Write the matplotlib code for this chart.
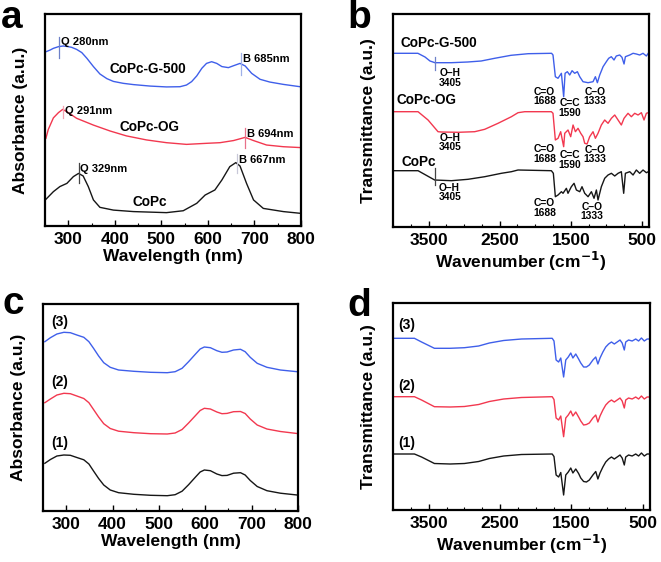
import matplotlib
matplotlib.use("Agg")
import matplotlib.pyplot as plt
from matplotlib.ticker import MultipleLocator, FixedLocator

plt.rcParams['font.family'] = ['Liberation Sans', 'DejaVu Sans']
plt.rcParams['font.weight'] = 'bold'

BLUE = '#3f5fea'
RED = '#f2384f'
BLACK = '#161616'

# ---- panel a : UV-vis spectra ----
a_g500_x = [252, 261, 268, 279, 289, 297, 307, 318, 329, 340, 354, 368, 383, 397, 418, 440,
            476, 511, 540, 554, 565, 576, 587, 597, 608, 619, 630, 644, 655, 669, 680, 694,
            712, 733, 762, 798]
a_g500_y = [82.2, 83.0, 83.8, 84.6, 84.9, 84.7, 84.3, 83.3, 81.8, 79.1, 75.2, 71.7, 69.5, 68.2,
            67.3, 66.7, 66.0, 65.6, 65.7, 66.5, 68.1, 70.8, 74.4, 76.7, 77.5, 76.7, 75.2, 74.7,
            75.6, 76.7, 75.5, 72.0, 69.2, 67.9, 66.8, 65.7]
a_og_x = [252, 257, 268, 279, 288, 297, 318, 354, 390, 425, 468, 511, 554, 597, 626, 655,
          680, 698, 726, 762, 798]
a_og_y = [41.4, 45.5, 51.0, 53.5, 55.0, 53.9, 50.8, 47.6, 44.8, 42.5, 40.6, 39.3, 38.5, 39.0,
          39.3, 40.3, 41.8, 40.3, 38.2, 37.4, 37.0]
a_copc_x = [252, 268, 282, 297, 311, 322, 332, 343, 354, 368, 397, 440, 511, 547, 576, 594,
            615, 630, 647, 660, 669, 683, 698, 719, 762, 798]
a_copc_y = [12.6, 16.2, 18.6, 20.1, 23.3, 24.8, 23.6, 18.6, 12.3, 8.8, 7.5, 6.8, 6.3, 7.2,
            10.7, 14.6, 17.0, 21.7, 28.0, 29.9, 28.3, 20.1, 12.3, 8.3, 6.8, 6.0]

# ---- panel b : FTIR spectra ----
b_g500_x = [3990, 3650, 3550, 3480, 3410, 3180, 2950, 2760, 2570, 2340, 2100, 1770, 1750,
            1717, 1680, 1632, 1600, 1580, 1548, 1515, 1482, 1445, 1407, 1374, 1328, 1257,
            1187, 1154, 1126, 1093, 1046, 1000, 967, 930, 892, 860, 812, 780, 751, 732,
            671, 624, 578, 531, 484, 437, 410]
b_g500_y = [173.7, 173.7, 170.0, 166.0, 164.3, 164.3, 165.0, 166.0, 168.7, 171.7, 173.3,
            173.7, 172.0, 150.3, 148.7, 153.7, 130.3, 153.7, 155.3, 152.0, 156.3, 153.7,
            155.3, 150.3, 145.3, 144.3, 145.3, 150.3, 144.3, 152.0, 160.3, 165.3, 168.7,
            170.3, 167.0, 171.0, 172.0, 169.7, 163.0, 170.3, 172.0, 173.7, 173.0, 172.0,
            173.7, 171.0, 173.7]
b_og_x = [3990, 3648, 3507, 3367, 3320, 3085, 2851, 2710, 2523, 2335, 2242, 2148, 1773,
          1750, 1717, 1679, 1642, 1600, 1585, 1539, 1501, 1468, 1435, 1398, 1360, 1328,
          1304, 1271, 1234, 1187, 1154, 1117, 1070, 1023, 976, 929, 882, 835, 789, 751,
          695, 648, 601, 554, 507, 470, 437, 410]
b_og_y = [115.3, 115.3, 107.0, 95.3, 95.0, 94.7, 95.3, 97.7, 103.7, 110.3, 114.3, 115.3,
          115.3, 113.7, 87.0, 88.7, 95.3, 80.3, 93.7, 97.0, 90.3, 102.0, 95.3, 98.7, 93.7,
          90.3, 83.7, 83.0, 90.3, 95.3, 88.7, 93.7, 102.0, 107.0, 103.7, 108.7, 112.0,
          107.0, 102.0, 108.7, 113.7, 110.3, 113.7, 112.0, 114.3, 107.0, 113.7, 114.3]
b_copc_x = [3990, 3648, 3414, 3179, 2945, 2710, 2476, 2335, 2242, 1773, 1745, 1717, 1679,
            1632, 1609, 1562, 1539, 1492, 1454, 1421, 1374, 1342, 1304, 1257, 1210, 1173,
            1140, 1117, 1070, 1023, 976, 929, 882, 835, 789, 756, 732, 671, 624, 578, 531,
            484, 437, 410]
b_copc_y = [56.3, 56.3, 47.0, 46.3, 47.7, 50.3, 53.7, 55.3, 57.0, 56.3, 53.7, 30.3, 32.0,
            35.3, 33.7, 38.7, 33.7, 40.3, 43.7, 37.0, 35.3, 40.3, 33.7, 30.3, 35.3, 28.7,
            37.0, 27.0, 40.3, 48.7, 52.0, 53.7, 51.0, 53.7, 55.3, 33.7, 53.7, 55.3, 52.0,
            57.0, 53.7, 57.0, 54.3, 55.3]

# ---- panel c : UV-vis of samples (1)-(3) ----
c_x = [254, 266, 280, 295, 309, 323, 338, 349, 359, 370, 381, 395, 413, 446, 482, 518, 535,
       550, 564, 579, 589, 598, 611, 625, 636, 647, 661, 676, 686, 697, 712, 733, 762, 798]
c_3_y = [169.3, 173.3, 177.0, 178.7, 178.3, 176.0, 173.7, 169.3, 162.7, 155.0, 148.3, 143.7,
         141.0, 139.7, 138.7, 138.3, 139.3, 142.7, 149.3, 157.0, 162.0, 164.0, 163.3, 160.3,
         158.7, 159.0, 161.0, 161.7, 159.3, 153.7, 147.7, 143.7, 141.0, 139.3]
c_2_y = [108.3, 112.0, 116.0, 117.7, 117.3, 115.0, 112.5, 108.3, 101.5, 94.0, 87.3, 82.5,
         79.8, 78.3, 77.3, 77.0, 78.0, 81.5, 88.0, 95.5, 100.5, 102.7, 102.0, 99.0, 97.3,
         97.6, 99.3, 99.5, 97.5, 92.0, 86.0, 82.0, 79.5, 77.5]
c_1_y = [47.7, 51.5, 55.0, 56.0, 55.7, 53.5, 51.2, 47.0, 40.0, 32.5, 26.0, 21.0, 18.3, 16.7,
         15.7, 15.3, 16.3, 19.8, 26.3, 34.0, 39.0, 41.0, 40.3, 37.0, 35.4, 35.6, 37.8, 38.3,
         36.0, 30.5, 24.5, 20.3, 17.8, 16.0]

# ---- panel d : FTIR of samples (1)-(3) ----
d_x = [3990, 3700, 3600, 3420, 3200, 3000, 2800, 2650, 2450, 2200, 1770, 1745, 1715, 1680,
       1650, 1610, 1580, 1545, 1510, 1480, 1440, 1400, 1370, 1330, 1290, 1250, 1200, 1160,
       1130, 1100, 1060, 1020, 980, 940, 900, 860, 820, 790, 760, 740, 700, 650, 600, 560,
       520, 480, 440, 410]
d_3_y = [171.7, 171.7, 168.0, 161.7, 161.7, 162.3, 164.0, 167.0, 169.5, 171.0, 171.7, 169.0,
         150.0, 148.0, 152.0, 133.0, 150.0, 153.0, 157.0, 152.0, 156.0, 151.0, 147.0, 143.0,
         143.0, 145.0, 150.0, 153.0, 146.0, 152.0, 158.0, 163.0, 166.0, 168.0, 166.0, 168.0,
         170.0, 167.0, 160.0, 168.0, 170.0, 169.0, 171.0, 169.0, 172.0, 169.0, 171.0, 171.0]
d_2_y = [113.3, 113.3, 110.0, 103.3, 103.0, 103.5, 105.5, 108.5, 111.0, 112.5, 113.3, 110.5,
         92.0, 90.0, 94.0, 73.3, 92.0, 95.0, 99.0, 94.0, 98.0, 93.0, 89.0, 85.0, 85.5, 87.0,
         92.0, 95.0, 88.0, 94.0, 100.0, 105.0, 108.0, 110.0, 108.0, 110.0, 112.0, 109.0,
         102.0, 110.0, 112.0, 111.0, 113.0, 111.0, 114.0, 111.0, 113.0, 113.0]
d_1_y = [56.0, 56.0, 53.0, 46.5, 46.0, 46.5, 48.5, 51.5, 54.0, 55.5, 56.0, 53.5, 35.0, 33.0,
         37.5, 15.0, 35.0, 38.0, 42.0, 37.0, 41.0, 36.5, 32.0, 28.5, 28.0, 30.0, 35.0, 38.5,
         31.0, 37.0, 43.0, 48.0, 51.0, 53.0, 51.0, 53.0, 55.0, 52.0, 45.0, 53.0, 55.0, 54.0,
         56.0, 54.0, 57.0, 54.0, 56.0, 56.0]


def style_axes(ax, xlabel, ylabel):
    for sp in ax.spines.values():
        sp.set_linewidth(1.6)
    ax.set_yticks([])
    ax.tick_params(axis='x', which='major', direction='in', length=4, width=1.0,
                   labelsize=12.5, pad=4)
    ax.tick_params(axis='x', which='minor', direction='in', length=2.5, width=0.8)
    for lab in ax.get_xticklabels():
        lab.set_fontweight('bold')
    ax.set_xlabel(xlabel, fontsize=12.5, fontweight='bold', labelpad=2)
    ax.set_ylabel(ylabel, fontsize=12.5, fontweight='bold', labelpad=12)


def peak_mark(ax, x, y0, y1, text, color, tcolor='black'):
    ax.plot([x, x], [y0, y1], color=color, lw=0.9)
    ax.text(x + 4, y1 - 2.5, text, fontsize=8, fontweight='bold', color=tcolor,
            ha='left', va='center')


def ir_label(ax, x, y, top, bottom, ha='center'):
    ax.text(x, y, top, fontsize=7.4, fontweight='bold', ha=ha, va='center')
    ax.text(x, y - 9.5, bottom, fontsize=7.4, fontweight='bold', ha=ha, va='center')


fig = plt.figure(figsize=(6.61, 5.62), dpi=100)

ax_a = fig.add_axes([45 / 661, 1 - 226 / 562, 256 / 661, 212 / 562])
ax_b = fig.add_axes([393 / 661, 1 - 227 / 562, 256 / 661, 213 / 562])
ax_c = fig.add_axes([43 / 661, 1 - 511 / 562, 255 / 661, 207 / 562])
ax_d = fig.add_axes([393 / 661, 1 - 510 / 562, 257 / 661, 207 / 562])

# panel a
ax_a.plot(a_g500_x, a_g500_y, color=BLUE, lw=1.0)
ax_a.plot(a_og_x, a_og_y, color=RED, lw=1.0)
ax_a.plot(a_copc_x, a_copc_y, color=BLACK, lw=1.0)
ax_a.set_xlim(250, 800)
ax_a.set_ylim(0, 100)
ax_a.xaxis.set_major_locator(MultipleLocator(100))
ax_a.xaxis.set_minor_locator(MultipleLocator(50))
peak_mark(ax_a, 280, 79.1, 89.3, 'Q 280nm', '#6d80c8')
peak_mark(ax_a, 672, 71.2, 81.4, 'B 685nm', '#9fb0e8')
peak_mark(ax_a, 288, 50.8, 56.8, 'Q 291nm', '#f5a3b3')
peak_mark(ax_a, 680, 36.6, 46.1, 'B 694nm', '#e8708a')
peak_mark(ax_a, 322, 20.1, 29.6, 'Q 329nm', '#444444')
peak_mark(ax_a, 662, 24.8, 33.8, 'B 667nm', '#c8c8d8')
ax_a.text(470, 74.1, 'CoPc-G-500', fontsize=9.8, fontweight='bold', ha='center', va='center')
ax_a.text(475, 46.5, 'CoPc-OG', fontsize=9.8, fontweight='bold', ha='center', va='center')
ax_a.text(475, 11.5, 'CoPc', fontsize=9.8, fontweight='bold', ha='center', va='center')
style_axes(ax_a, 'Wavelength (nm)', 'Absorbance (a.u.)')

# panel b
ax_b.plot(b_g500_x, b_g500_y, color=BLUE, lw=1.0)
ax_b.plot(b_og_x, b_og_y, color=RED, lw=1.0)
ax_b.plot(b_copc_x, b_copc_y, color=BLACK, lw=1.0)
ax_b.set_xlim(4000, 400)
ax_b.set_ylim(0, 213)
ax_b.xaxis.set_major_locator(FixedLocator([3500, 2500, 1500, 500]))
ax_b.xaxis.set_minor_locator(MultipleLocator(250))
ax_b.plot([3405, 3405], [157, 170], color='#6d80c8', lw=0.9)
ax_b.plot([3405, 3405], [42, 59], color='#444444', lw=0.9)
ax_b.text(3900, 184, 'CoPc-G-500', fontsize=9.8, fontweight='bold', ha='left', va='center')
ax_b.text(3950, 127, 'CoPc-OG', fontsize=9.8, fontweight='bold', ha='left', va='center')
ax_b.text(3880, 65, 'CoPc', fontsize=9.8, fontweight='bold', ha='left', va='center')
ir_label(ax_b, 3350, 154, 'O\u2013H', '3405', ha='left')
ir_label(ax_b, 1867, 135, 'C=O', '1688')
ir_label(ax_b, 1515, 124, 'C=C', '1590')
ir_label(ax_b, 1164, 135, 'C\u2013O', '1333')
ir_label(ax_b, 3350, 89, 'O\u2013H', '3405', ha='left')
ir_label(ax_b, 1867, 78, 'C=O', '1688')
ir_label(ax_b, 1515, 72, 'C=C', '1590')
ir_label(ax_b, 1164, 77, 'C\u2013O', '1333')
ir_label(ax_b, 3360, 39, 'O\u2013H', '3405', ha='left')
ir_label(ax_b, 1867, 23.5, 'C=O', '1688')
ir_label(ax_b, 1206, 20.5, 'C\u2013O', '1333')
style_axes(ax_b, 'Wavenumber (cm$\\mathbf{^{-1}}$)', 'Transmittance (a.u.)')

# panel c
ax_c.plot(c_x, c_3_y, color=BLUE, lw=1.0)
ax_c.plot(c_x, c_2_y, color=RED, lw=1.0)
ax_c.plot(c_x, c_1_y, color=BLACK, lw=1.0)
ax_c.set_xlim(250, 800)
ax_c.set_ylim(0, 207)
ax_c.xaxis.set_major_locator(MultipleLocator(100))
ax_c.xaxis.set_minor_locator(MultipleLocator(50))
for lbl, yy in [('(3)', 189), ('(2)', 129), ('(1)', 68)]:
    ax_c.text(286, yy, lbl, fontsize=10, fontweight='bold', ha='center', va='center')
style_axes(ax_c, 'Wavelength (nm)', 'Absorbance (a.u.)')

# panel d
ax_d.plot(d_x, d_3_y, color=BLUE, lw=1.0)
ax_d.plot(d_x, d_2_y, color=RED, lw=1.0)
ax_d.plot(d_x, d_1_y, color=BLACK, lw=1.0)
ax_d.set_xlim(4000, 400)
ax_d.set_ylim(0, 207)
ax_d.xaxis.set_major_locator(FixedLocator([3500, 2500, 1500, 500]))
ax_d.xaxis.set_minor_locator(MultipleLocator(250))
for lbl, yy in [('(3)', 185), ('(2)', 124), ('(1)', 67)]:
    ax_d.text(3808, yy, lbl, fontsize=10, fontweight='bold', ha='center', va='center')
style_axes(ax_d, 'Wavenumber (cm$\\mathbf{^{-1}}$)', 'Transmittance (a.u.)')

# panel letters
for letter, px, py in [('a', 1, 28), ('b', 347, 28), ('c', 2, 314), ('d', 347, 316)]:
    fig.text(px / 661, 1 - py / 562, letter, fontsize=28, fontweight='bold',
             ha='left', va='baseline')

fig.savefig('out.png', dpi=100)
